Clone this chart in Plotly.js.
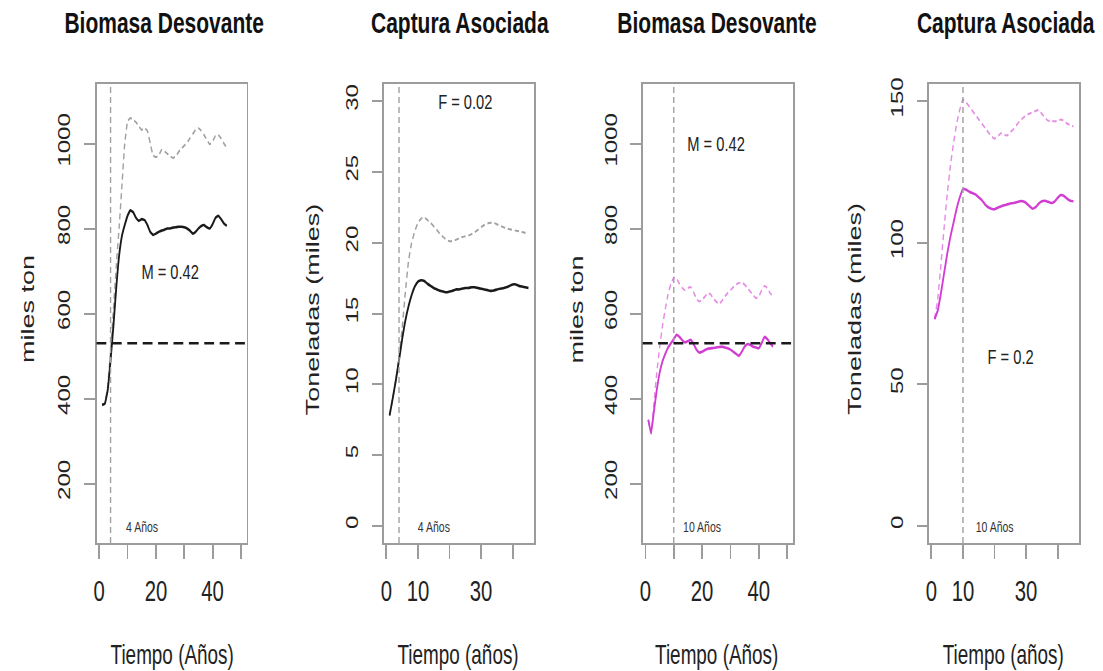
<!DOCTYPE html>
<html>
<head>
<meta charset="utf-8">
<script src="https://cdn.plot.ly/plotly-3.0.1.min.js"></script>
<style>
  html, body { margin: 0; padding: 0; background: #fff; overflow: hidden; }
  #wrap { width: 1103px; height: 671px; overflow: hidden; }
  /* the figure is laid out wide and then narrowed horizontally */
  #chart { width: 1576px; height: 671px; transform-origin: 0 0; }
</style>
</head>
<body>
<div id="wrap"><div id="chart"></div></div>
<script>
// ---- data -------------------------------------------------------------
const years = [1, 2, 3, 4, 5, 6, 7, 8, 9, 10, 11, 12, 13, 14, 15, 16, 17, 18, 19, 20,
  21, 22, 23, 24, 25, 26, 27, 28, 29, 30, 31, 32, 33, 34, 35, 36, 37, 38, 39, 40,
  41, 42, 43, 44, 45];

// Panel 1: biomasa desovante, recovery in 4 years (miles ton)
const biomasa4Solid = [385, 388, 420, 490, 570, 660, 735, 782, 808, 830, 843, 838, 825, 818, 822,
  820, 808, 792, 785, 788, 792, 795, 797, 800, 800, 802, 803, 804, 804, 803, 800, 795, 788, 792,
  800, 806, 808, 803, 800, 810, 825, 830, 822, 812, 806];
const biomasa4Dashed = [385, 388, 430, 510, 610, 710, 800, 900, 1000, 1052, 1060, 1056, 1050, 1040,
  1032, 1036, 1030, 1000, 972, 968, 972, 985, 982, 976, 970, 966, 970, 980, 988, 995, 1002, 1012,
  1022, 1032, 1036, 1030, 1020, 1008, 998, 1005, 1018, 1020, 1012, 1000, 990];

// Panel 2: captura asociada, F = 0.02 (toneladas, miles)
const captura4Solid = [7.8, 9.0, 10.3, 11.7, 13.2, 14.5, 15.5, 16.3, 16.9, 17.25, 17.35, 17.3, 17.1,
  16.95, 16.8, 16.7, 16.6, 16.55, 16.5, 16.55, 16.6, 16.7, 16.7, 16.75, 16.8, 16.8, 16.85, 16.85,
  16.8, 16.75, 16.7, 16.65, 16.6, 16.62, 16.7, 16.75, 16.78, 16.85, 16.95, 17.05, 17.05, 16.95,
  16.9, 16.85, 16.8];
const captura4Dashed = [7.8, 9.0, 10.3, 11.9, 14.0, 16.5, 18.7, 20.0, 20.8, 21.4, 21.7, 21.8, 21.6,
  21.4, 21.15, 20.9, 20.6, 20.4, 20.2, 20.1, 20.1, 20.2, 20.3, 20.4, 20.45, 20.5, 20.6, 20.75,
  20.9, 21.1, 21.25, 21.35, 21.4, 21.4, 21.3, 21.2, 21.1, 21.0, 20.95, 20.9, 20.85, 20.8, 20.75,
  20.7, 20.65];

// Panel 3: biomasa desovante, recovery in 10 years (miles ton)
const biomasa10Solid = [350, 318, 370, 420, 460, 487, 505, 520, 530, 540, 550, 545, 537, 532, 535,
  538, 528, 515, 508, 510, 514, 517, 518, 519, 520, 521, 522, 520, 518, 515, 510, 505, 500, 510,
  522, 528, 526, 522, 520, 518, 530, 545, 540, 530, 522];
const biomasa10Dashed = [350, 318, 390, 460, 520, 570, 610, 645, 670, 685, 682, 670, 660, 655, 660,
  662, 650, 635, 628, 632, 640, 648, 645, 635, 628, 622, 630, 640, 648, 655, 662, 668, 672, 673,
  668, 660, 652, 643, 636, 640, 655, 665, 660, 648, 640];

// Panel 4: captura asociada, F = 0.2 (toneladas, miles)
const captura10Solid = [73, 76, 82, 89, 96, 102, 107, 112, 116, 119, 118.7, 118, 117.5, 117, 116,
  115, 113.5, 112.5, 112, 111.8, 112.3, 112.8, 113.2, 113.5, 113.8, 114, 114.3, 114.6, 114.6, 114,
  113, 112, 112.5, 113.8, 114.6, 114.8, 114.4, 114, 114.5, 115.8, 116.8, 116.5, 115.5, 114.8, 114.6];
const captura10Dashed = [73, 80, 92, 105, 117, 127, 135, 142, 147, 150.5, 149.5, 148, 146.5, 145,
  143.5, 142, 140.5, 139, 137.5, 136.7, 137.5, 138.6, 138.2, 137.8, 139, 140, 141.5, 143, 144, 145,
  145.5, 146, 146.5, 146.8, 145.5, 144, 143, 143, 142.8, 143, 143.5, 143, 142, 141.5, 141];

// reference levels and labels
const biomasaRef = 530;
const recoveryYears = [4, 4, 10, 10];
const panelTitles = ['Biomasa Desovante', 'Captura Asociada', 'Biomasa Desovante', 'Captura Asociada'];
const yTitles = ['miles ton', 'Toneladas (miles)', 'miles ton', 'Toneladas (miles)'];
const xTitles = ['Tiempo (Años)', 'Tiempo (años)', 'Tiempo (Años)', 'Tiempo (años)'];
const paramLabels = ['M = 0.42', 'F = 0.02', 'M = 0.42', 'F = 0.2'];
const paramPos = [[25, 700], [25, 30], [25, 1000], [25, 60]];
const recoveryLabels = ['4 Años', '4 Años', '10 Años', '10 Años'];
const recoveryPos = [[15, 100], [15, 0], [20, 100], [20, 0]];

const xTicksA = [0, 10, 20, 30, 40, 50];
const xTextA = ['0', '', '20', '', '40', ''];
const xTicksB = [0, 10, 20, 30, 40];
const xTextB = ['0', '10', '', '30', ''];
const yTicksBiomasa = [200, 400, 600, 800, 1000];
const yTicksCaptura4 = [0, 5, 10, 15, 20, 25, 30];
const yTicksCaptura10 = [0, 50, 100, 150];

// ---- geometry (final page pixels) -----------------------------------
const PAGE_W = 1103, PAGE_H = 671, INNER_W = 1576;
const SX = PAGE_W / INNER_W;
document.getElementById('chart').style.transform = 'scaleX(' + SX + ')';

const boxes = [[96.5, 246.5], [384, 534], [642.7, 792.7], [929, 1079]];
const boxTop = 84, boxBottom = 543;
const xRanges = [[-0.96, 51.96], [-0.76, 46.76], [-0.96, 51.96], [-0.76, 46.76]];
const yRanges = [[60, 1140], [-1.2, 31.2], [60, 1140], [-6, 156]];
const titleX = [164, 460, 717, 1006];
const yTitleX = [28, 313, 577, 855];
const xTitleX = [172, 458, 717, 1003];

const FONT = 'Liberation Sans, Arial, Helvetica, sans-serif';
const BOX = '#9c9c9c';
const INK = '#1a1a1a';
const GREY = '#a0a0a0';
const MAG = '#d23cd2';
const PINK = '#e58ce5';

const px = v => v / PAGE_W;
const py = v => 1 - v / PAGE_H;

const layout = {
  width: INNER_W, height: PAGE_H,
  margin: { l: 0, r: 0, t: 0, b: 0 },
  paper_bgcolor: '#fff', plot_bgcolor: '#fff',
  showlegend: false,
  shapes: [], annotations: []
};

const xTickSets = [[xTicksA, xTextA], [xTicksB, xTextB], [xTicksA, xTextA], [xTicksB, xTextB]];
const yTickSets = [yTicksBiomasa, yTicksCaptura4, yTicksBiomasa, yTicksCaptura10];

for (let i = 0; i < 4; i++) {
  const n = i === 0 ? '' : String(i + 1);
  const xa = 'xaxis' + n, ya = 'yaxis' + n;
  layout[xa] = {
    domain: [px(boxes[i][0]), px(boxes[i][1])],
    range: xRanges[i], anchor: 'y' + n,
    tickmode: 'array', tickvals: xTickSets[i][0], ticktext: xTickSets[i][1],
    showgrid: false, zeroline: false,
    showline: true, mirror: true, linecolor: BOX, linewidth: 2,
    ticks: 'outside', ticklen: 14, tickwidth: 2.6, tickcolor: BOX,
    ticklabelstandoff: 7,
    tickfont: { family: FONT, size: 29, color: '#222' },
    fixedrange: true
  };
  layout[ya] = {
    domain: [py(boxBottom), py(boxTop)],
    range: yRanges[i], anchor: 'x' + n,
    tickmode: 'array', tickvals: yTickSets[i],
    showgrid: false, zeroline: false,
    showline: true, mirror: true, linecolor: BOX, linewidth: 2.8,
    ticks: 'outside', ticklen: 15, tickwidth: 2, tickcolor: BOX,
    tickangle: -90, ticklabelstandoff: 10,
    tickfont: { family: FONT, size: 24, color: '#222' },
    fixedrange: true
  };

  // recovery-year marker
  layout.shapes.push({
    type: 'line', xref: 'x' + n, yref: 'y' + n + ' domain',
    x0: recoveryYears[i], x1: recoveryYears[i], y0: 0, y1: 1,
    line: { color: GREY, width: 2, dash: '6px,4px' }, layer: 'above'
  });

  // panel title
  layout.annotations.push({
    xref: 'paper', yref: 'paper', x: px(titleX[i]), y: py(22),
    text: '<b>' + panelTitles[i] + '</b>', showarrow: false,
    xanchor: 'center', yanchor: 'middle',
    font: { family: FONT, size: 30, color: '#111' }
  });
  // y-axis title
  layout.annotations.push({
    xref: 'paper', yref: 'paper', x: px(yTitleX[i]), y: py(309),
    text: yTitles[i], textangle: -90, showarrow: false,
    xanchor: 'center', yanchor: 'middle',
    font: { family: FONT, size: 27, color: '#222' }
  });
  // x-axis title
  layout.annotations.push({
    xref: 'paper', yref: 'paper', x: px(xTitleX[i]), y: py(655),
    text: xTitles[i], showarrow: false,
    xanchor: 'center', yanchor: 'middle',
    font: { family: FONT, size: 27, color: '#222' }
  });
  // parameter label
  layout.annotations.push({
    xref: 'x' + n, yref: 'y' + n, x: paramPos[i][0], y: paramPos[i][1],
    text: paramLabels[i], showarrow: false,
    xanchor: 'center', yanchor: 'middle',
    font: { family: FONT, size: 21, color: '#222' }
  });
  // recovery label
  layout.annotations.push({
    xref: 'x' + n, yref: 'y' + n, x: recoveryPos[i][0], y: recoveryPos[i][1],
    text: recoveryLabels[i], showarrow: false,
    xanchor: 'center', yanchor: 'middle',
    font: { family: FONT, size: 15, color: '#333' }
  });
}

// spawning-biomass reference level (panels 1 and 3)
['', '3'].forEach(n => {
  layout.shapes.push({
    type: 'line', xref: 'x' + n + ' domain', yref: 'y' + n,
    x0: 0, x1: 1, y0: biomasaRef, y1: biomasaRef,
    line: { color: INK, width: 2.6, dash: '14px,8px' }, layer: 'above'
  });
});

function line(y, ax, color, width, dash) {
  return {
    type: 'scatter', mode: 'lines', x: years, y: y,
    xaxis: 'x' + ax, yaxis: 'y' + ax,
    line: { color: color, width: width, dash: dash, shape: 'spline', smoothing: 0.3 },
    hoverinfo: 'skip'
  };
}

const traces = [
  line(biomasa4Dashed, '', GREY, 2, '6px,4px'),
  line(biomasa4Solid, '', INK, 2.6, 'solid'),
  line(captura4Dashed, '2', GREY, 2, '6px,4px'),
  line(captura4Solid, '2', INK, 2.6, 'solid'),
  line(biomasa10Dashed, '3', PINK, 2, '6px,4px'),
  line(biomasa10Solid, '3', MAG, 2.6, 'solid'),
  line(captura10Dashed, '4', PINK, 2, '6px,4px'),
  line(captura10Solid, '4', MAG, 2.6, 'solid')
];

Plotly.newPlot('chart', traces, layout, { displayModeBar: false, staticPlot: true });
</script>
</body>
</html>
